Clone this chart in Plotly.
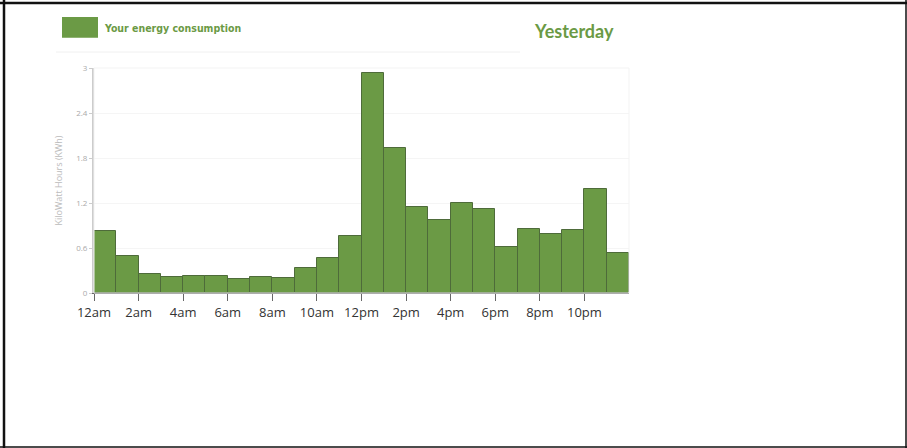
import plotly.graph_objects as go

hours = list(range(24))
kwh = [0.83, 0.50, 0.26, 0.22, 0.23, 0.23, 0.19, 0.22, 0.20, 0.33, 0.47, 0.76,
       2.94, 1.94, 1.15, 0.98, 1.20, 1.12, 0.61, 0.86, 0.79, 0.84, 1.39, 0.54]
tick_vals = [0, 2, 4, 6, 8, 10, 12, 14, 16, 18, 20, 22]
tick_text = ["12am", "2am", "4am", "6am", "8am", "10am", "12pm", "2pm", "4pm", "6pm", "8pm", "10pm"]
y_ticks = [0, 0.6, 1.2, 1.8, 2.4, 3]
y_text = ["0", "0.6", "1.2", "1.8", "2.4", "3"]

GREEN = "#6b9a45"

# plot area in pixels: x 94..629, y 68..293
def px(x):
    return (x - 94) / 535.0

def py(y):
    return (293 - y) / 225.0

fig = go.Figure()
fig.add_trace(go.Bar(
    x=[h + 0.5 for h in hours], y=kwh, width=1,
    marker=dict(color=GREEN, line=dict(color="#4e6b3a", width=1)),
    name="Your energy consumption", showlegend=False,
))

fig.update_layout(
    width=907, height=448,
    margin=dict(l=94, r=278, t=68, b=155),
    paper_bgcolor="white", plot_bgcolor="white",
    bargap=0,
    xaxis=dict(range=[0, 24], tickvals=tick_vals, ticktext=tick_text,
               showgrid=False, zeroline=False, showline=True, linecolor="#666", linewidth=1,
               ticks="outside", ticklen=7, tickcolor="#666",
               tickfont=dict(family="Open Sans", size=13, color="#333")),
    yaxis=dict(range=[0, 3], tickvals=y_ticks, ticktext=y_text,
               showgrid=True, gridcolor="#f5f5f5", zeroline=False,
               showline=True, linecolor="#cccccc", linewidth=2,
               ticks="outside", ticklen=3, tickcolor="#cccccc",
               tickfont=dict(family="Open Sans", size=8, color="#aaaaaa"),
               title=dict(text="KiloWatt Hours (KWh)", standoff=12,
                          font=dict(family="Open Sans", size=9, color="#bbbbbb"))),
    shapes=[
        dict(type="rect", xref="paper", yref="paper", x0=px(62), x1=px(98), y0=py(37.7), y1=py(17),
             fillcolor=GREEN, line=dict(width=0)),
        dict(type="line", xref="paper", yref="paper", x0=px(56), x1=px(520), y0=py(52), y1=py(52),
             line=dict(color="#f0f0f0", width=1)),
        dict(type="rect", xref="paper", yref="paper", x0=0, x1=1, y0=0, y1=1,
             line=dict(color="#f3f3f3", width=1)),
        # outer black frame of the picture
        dict(type="line", xref="paper", yref="paper", x0=px(0), x1=px(907), y0=py(3), y1=py(3),
             line=dict(color="#111", width=2.5)),
        dict(type="line", xref="paper", yref="paper", x0=px(4), x1=px(4), y0=py(0), y1=py(448),
             line=dict(color="#111", width=2.5)),
        dict(type="line", xref="paper", yref="paper", x0=px(906), x1=px(906), y0=py(0), y1=py(448),
             line=dict(color="#111", width=1.5)),
        dict(type="line", xref="paper", yref="paper", x0=px(0), x1=px(907), y0=py(447), y1=py(447),
             line=dict(color="#111", width=1.5)),
    ],
    annotations=[
        dict(text="<b>Your energy consumption</b>", xref="paper", yref="paper", x=px(102), y=py(28),
             xanchor="left", yanchor="middle", showarrow=False,
             font=dict(family="DejaVu Sans Condensed, Roboto, sans-serif", size=10.5, color=GREEN)),
        dict(text="<b>Yesterday</b>", xref="paper", yref="paper", x=px(616), y=py(31),
             xanchor="right", yanchor="middle", showarrow=False,
             font=dict(family="Lato", size=18, color=GREEN)),
    ],
)

fig.write_html("out.html")
